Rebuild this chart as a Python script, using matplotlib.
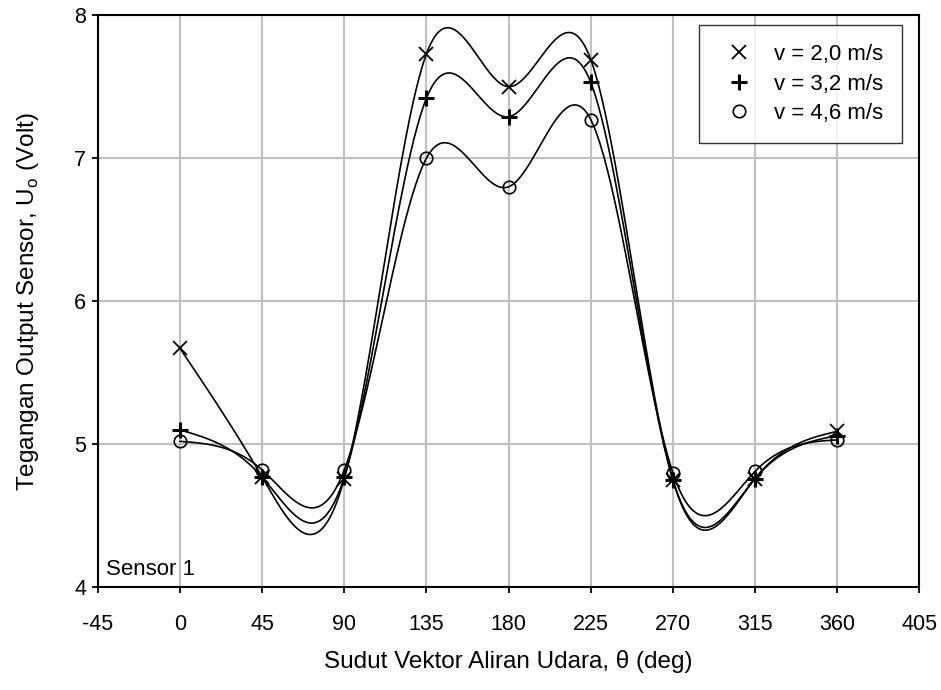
import numpy as np
import matplotlib.pyplot as plt

plt.rcParams['font.family'] = ['Liberation Sans', 'DejaVu Sans']
plt.rcParams['mathtext.fontset'] = 'custom'
plt.rcParams['mathtext.rm'] = 'Liberation Sans'
plt.rcParams['axes.unicode_minus'] = False

sudut = [0, 45, 90, 135, 180, 225, 270, 315, 360]
v20 = [5.67, 4.77, 4.76, 7.73, 7.50, 7.69, 4.75, 4.76, 5.09]
v32 = [5.10, 4.77, 4.77, 7.42, 7.29, 7.53, 4.75, 4.76, 5.06]
v46 = [5.02, 4.82, 4.82, 7.00, 6.80, 7.27, 4.80, 4.81, 5.03]
labels = ['v = 2,0 m/s', 'v = 3,2 m/s', 'v = 4,6 m/s']


def spline(x, y, n=400):
    # natural cubic spline through the points
    x = np.asarray(x, float)
    y = np.asarray(y, float)
    k = len(x)
    h = np.diff(x)
    A = np.zeros((k, k))
    r = np.zeros(k)
    A[0, 0] = A[-1, -1] = 1
    for i in range(1, k - 1):
        A[i, i - 1] = h[i - 1]
        A[i, i] = 2 * (h[i - 1] + h[i])
        A[i, i + 1] = h[i]
        r[i] = 6 * ((y[i + 1] - y[i]) / h[i] - (y[i] - y[i - 1]) / h[i - 1])
    m = np.linalg.solve(A, r)
    xs = np.linspace(x[0], x[-1], n)
    j = np.clip(np.searchsorted(x, xs) - 1, 0, k - 2)
    a = x[j + 1] - xs
    b = xs - x[j]
    hj = h[j]
    ys = (m[j] * a ** 3 + m[j + 1] * b ** 3) / (6 * hj) \
        + (y[j] / hj - m[j] * hj / 6) * a + (y[j + 1] / hj - m[j + 1] * hj / 6) * b
    return xs, ys


fig = plt.figure(figsize=(9.41, 6.9), dpi=100)
ax = fig.add_axes([0.104, 0.149, 0.873, 0.829])

markers = [dict(marker='x', ms=10, mew=1.3),
           dict(marker='+', ms=12, mew=2.2),
           dict(marker='o', ms=9, mew=1.2, mfc='none')]

for ys, lab, mk in zip([v20, v32, v46], labels, markers):
    sx, sy = spline(sudut, ys)
    ax.plot(sx, sy, color='black', lw=1.2, zorder=3)
    ax.plot(sudut, ys, ls='none', color='black', label=lab, zorder=4, **mk)

ax.set_xlim(-45, 405)
ax.set_ylim(4, 8)
ax.set_xticks(np.arange(-45, 406, 45))
ax.set_yticks([4, 5, 6, 7, 8])
ax.grid(True, color='#c0c0c0', lw=1.5)
ax.set_axisbelow(True)
for s in ax.spines.values():
    s.set_linewidth(1.5)
ax.tick_params(direction='out', length=4.5, width=1.3, labelsize=15.5)
ax.tick_params(axis='x', pad=14.5)
ax.tick_params(axis='y', pad=4)

ax.set_xlabel('Sudut Vektor Aliran Udara, \u03b8 (deg)', fontsize=17.5, labelpad=11)
ax.set_ylabel(r'Tegangan Output Sensor, U$_\mathregular{o}$ (Volt)', fontsize=17.5, labelpad=24)

ax.text(-40.6, 4.085, 'Sensor 1', fontsize=16, va='baseline')

leg = ax.legend(loc='upper right', bbox_to_anchor=(0.979, 0.9825), fontsize=16, frameon=True,
                fancybox=False, edgecolor='black', handlelength=1.9, handletextpad=0.65,
                borderpad=0.85, labelspacing=0.38, borderaxespad=0)
leg.get_frame().set_linewidth(1.0)

fig.savefig('out.png', dpi=100)
